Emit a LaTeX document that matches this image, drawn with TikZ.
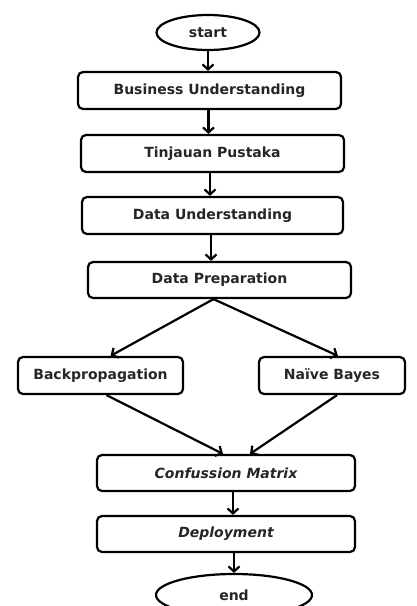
\documentclass[tikz,border=0pt]{standalone}
\usepackage{fontspec}
\setmainfont{DejaVu Sans}
\usetikzlibrary{shapes.geometric,arrows.meta}

\begin{document}
\begin{tikzpicture}[x=1pt, y=-1pt,
	every node/.style={font=\fontsize{14}{16}\selectfont\bfseries, line width=2.2pt, text=black!85},
	stepbox/.style={draw, rounded corners=5pt, minimum height=37pt, inner sep=0pt},
	terminal/.style={draw, ellipse, inner sep=0pt},
	flow/.style={line width=2.2pt, -{Straight Barb[length=5pt, width=11pt, line width=2.2pt]}}]
	\useasboundingbox (0, 0) rectangle (417, 606);
	\node [terminal, minimum width=103pt, minimum height=35pt] (start) at (208, 32.5) {start};
	\node [stepbox, minimum width=263pt] (bu) at (209.5, 90.5) {Business Understanding};
	\node [stepbox, minimum width=263pt] (tp) at (212.5, 153.5) {Tinjauan Pustaka};
	\node [stepbox, minimum width=261pt] (du) at (212.5, 215.5) {Data Understanding};
	\node [stepbox, minimum width=263pt, minimum height=36pt] (dp) at (219.5, 280) {Data Preparation};
	\node [stepbox, minimum width=165pt] (bp) at (100.5, 375.5) {Backpropagation};
	\node [stepbox, minimum width=146pt] (nb) at (332, 375.5) {Naïve Bayes};
	\node [stepbox, minimum width=258pt, minimum height=36pt] (cm) at (226, 473) {\itshape Confussion Matrix};
	\node [stepbox, minimum width=258pt, minimum height=36pt] (dep) at (226, 534) {\itshape Deployment};
	\node [terminal, minimum width=156pt, minimum height=42pt] (end) at (234, 595) {end};
	\coordinate (split) at ([xshift=-6pt]dp.south);
	\draw [flow] (start.south) -- (start.south |- bu.north);
	\draw [flow] ([xshift=-1pt]bu.south) -- ([xshift=-1pt]bu.south |- tp.north);
	\draw [flow] ([xshift=-2.5pt]tp.south) -- ([xshift=-2.5pt]tp.south |- du.north);
	\draw [flow] ([xshift=-1.5pt]du.south) -- ([xshift=-1.5pt]du.south |- dp.north);
	\draw [flow] (split) -- ([xshift=10pt]bp.north);
	\draw [flow] (split) -- ([xshift=6pt]nb.north);
	\draw [flow] ([xshift=6pt]bp.south) -- ([xshift=-3pt]cm.north);
	\draw [flow] ([xshift=5pt]nb.south) -- ([xshift=24pt]cm.north);
	\draw [flow] ([xshift=7pt]cm.south) -- ([xshift=7pt]dep.north);
	\draw [flow] (dep.south -| end) -- (end);
\end{tikzpicture}
\end{document}
